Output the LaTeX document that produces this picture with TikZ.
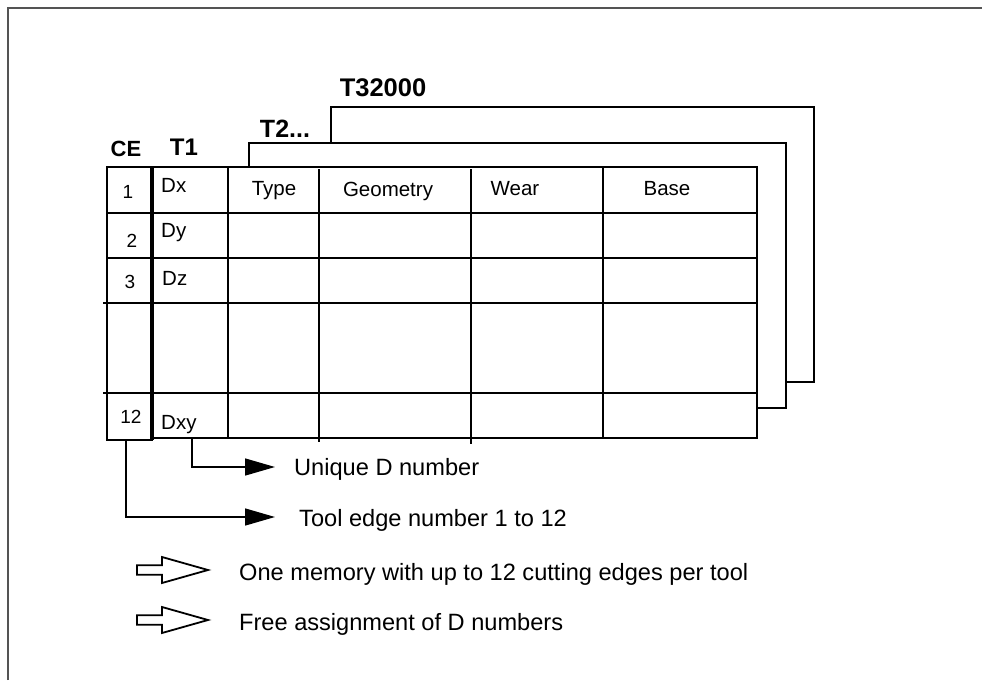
\documentclass[tikz,border=0pt]{standalone}
\usepackage{fontspec}
\setmainfont{Liberation Sans}
\usepackage{tikz}
\usepackage{xcolor}
\usetikzlibrary{arrows.meta,calc}
\definecolor{frame}{gray}{0.33}

\tikzset{
  gridline/.style={line width=2.5pt},
  sheetline/.style={line width=2.2pt,line join=miter},
  pointer/.style={line width=1.5pt,-{Triangle[length=30pt,width=17pt]}},
  headtext/.style={font=\fontsize{24}{28}\selectfont\bfseries,inner sep=0pt,anchor=base},
  celltext/.style={font=\fontsize{20.5}{24}\selectfont,inner sep=0pt,anchor=base},
  numtext/.style={font=\fontsize{19}{22}\selectfont,inner sep=0pt,anchor=base},
  notetext/.style={font=\fontsize{23.6}{28}\selectfont,inner sep=0pt,anchor=base west},
  openarrow/.pic={\draw[line width=1.8pt,line join=miter] (0,-4.75)--(25,-4.75)--(25,-13)--(71,0)
     --(25,13)--(25,4.75)--(0,4.75)--cycle;}
}

\begin{document}
\begin{tikzpicture}[x=1pt,y=-1pt]
\useasboundingbox (0,0) rectangle (982,680);
\draw[frame,line width=2pt] (8,680)--(8,8)--(982,8);

% sheets behind
\draw[sheetline] (331,143)--(331,107)--(814,107)--(814,382)--(786,382);
\draw[sheetline] (249,167)--(249,143)--(786,143)--(786,408)--(757,408);

% front sheet
\draw[gridline] (107,167) rectangle (152,440);
\draw[gridline] (152,167) rectangle (757,438);
\draw[gridline,line width=3.2pt] (152,167)--(152,440);
\draw[gridline] (107,213)--(757,213);
\draw[gridline] (107,258)--(757,258);
\draw[gridline] (103,303)--(757,303);
\draw[gridline] (103,393)--(757,393);
\draw[gridline] (228,167)--(228,438);
\draw[gridline] (319,169)--(319,442);
\draw[gridline] (471,169)--(471,444);
\draw[gridline] (603,167)--(603,438);

\node[headtext,font=\fontsize{22}{26}\selectfont\bfseries] (ce) at (126,156) {CE};
\node[headtext] (t1) at (184,155) {T1};
\node[headtext,font=\fontsize{25}{28}\selectfont\bfseries] (t2) at (285,137) {T2...};
\node[headtext,font=\fontsize{25.5}{28}\selectfont\bfseries] (tlast) at (383,96) {T32000};

\node[numtext] (e1) at (128,198) {1};
\node[numtext] (e2) at (132,247) {2};
\node[numtext] (e3) at (130,288) {3};
\node[numtext] (e12) at (131,423) {12};
\node[celltext,anchor=base west] (dx) at (161,192) {Dx};
\node[celltext,anchor=base west] (dy) at (161,237) {Dy};
\node[celltext,anchor=base west] (dz) at (162,285) {Dz};
\node[celltext,anchor=base west] (dxy) at (161,429) {Dxy};
\node[celltext] (type) at (274,195) {Type};
\node[celltext] (geo) at (388,196) {Geometry};
\node[celltext] (wear) at (515,195) {Wear};
\node[celltext] (base) at (667,195) {Base};

% what the columns mean
\coordinate (dxyfoot) at (192,438);
\coordinate (cefoot) at (126,440);
\node[notetext] (uniq) at (294,475) {Unique D number};
\node[notetext] (tooledge) at (299,526) {Tool edge number 1 to 12};
\draw[pointer,shorten >=19pt] (dxyfoot) |- ([yshift=8pt]uniq.base west);
\draw[pointer,shorten >=24pt] (cefoot) |- ([yshift=9pt]tooledge.base west);

\pic (memarrow) at (137,570) {openarrow};
\node[notetext] (memory) at (239,580) {One memory with up to 12 cutting edges per tool};
\pic (freearrow) at (137,620) {openarrow};
\node[notetext] (free) at (239,630) {Free assignment of D numbers};
\end{tikzpicture}
\end{document}
